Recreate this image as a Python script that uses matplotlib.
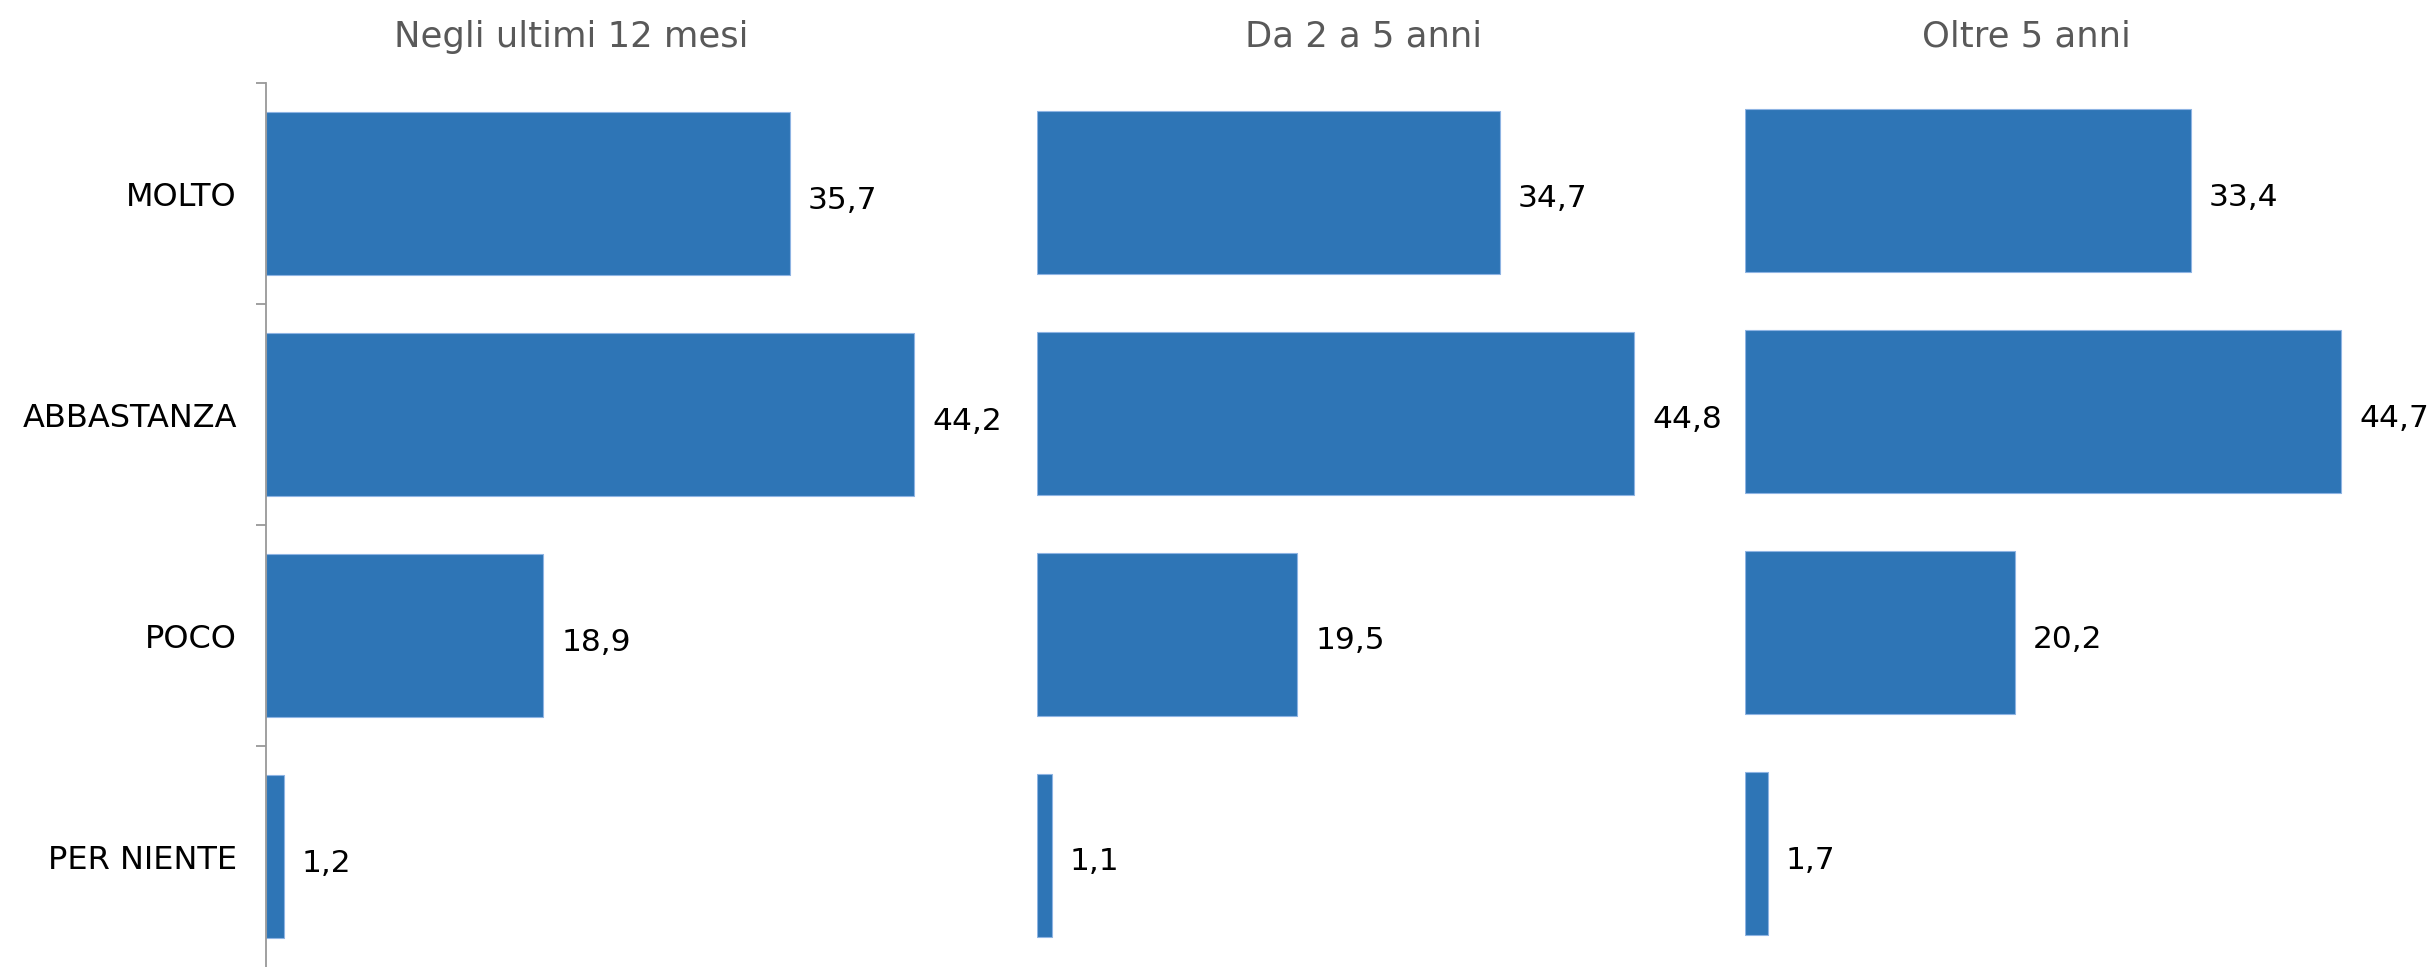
import matplotlib
matplotlib.use("Agg")
import matplotlib.pyplot as plt

categories = ["MOLTO", "ABBASTANZA", "POCO", "PER NIENTE"]
titles = ["Negli ultimi 12 mesi", "Da 2 a 5 anni", "Oltre 5 anni"]
vals_12mesi = [35.7, 44.2, 18.9, 1.2]
vals_2_5anni = [34.7, 44.8, 19.5, 1.1]
vals_oltre5 = [33.4, 44.7, 20.2, 1.7]
series = [vals_12mesi, vals_2_5anni, vals_oltre5]

W, H = 2433, 967
fig = plt.figure(figsize=(W / 100, H / 100), dpi=100)
plt.rcParams['font.family'] = ['DejaVu Sans']

BAR = '#2E75B6'
EDGE = '#8EB4E3'
AXC = '#999999'

# panel geometry in pixels: (left, top-of-bands shift, width for xlim 0..50)
panels = [(266.0, 0.0, 733.5), (1037.3, -1.7, 666.5), (1745.3, -3.0, 666.5)]
title_cx = [571, 1364, 2026]

for i, (vals, (lx, dy, wpx)) in enumerate(zip(series, panels)):
    top = 83.3 + dy
    bot = 967.3 + dy
    ax = fig.add_axes([lx / W, (H - bot) / H, wpx / W, (bot - top) / H])
    ypos = list(range(len(categories)))
    ax.barh(ypos, vals, height=0.738, color=BAR, edgecolor=EDGE, linewidth=0.8)
    ax.set_xlim(0, 50)
    ax.set_ylim(3.5, -0.5)
    for s in ['top', 'right', 'bottom']:
        ax.spines[s].set_visible(False)
    ax.set_xticks([])
    for y, v in zip(ypos, vals):
        ax.annotate(f"{v:.1f}".replace('.', ','), xy=(v, y), xytext=(13.0, -10.6),
                    textcoords='offset points', ha='left', va='baseline',
                    fontsize=22.5, color='black', annotation_clip=False)
    if i == 0:
        ax.spines['left'].set_color(AXC)
        ax.spines['left'].set_linewidth(1.3)
        ax.set_yticks(ypos)
        ax.set_yticklabels(categories, fontsize=23)
        ax.tick_params(axis='y', which='major', length=0, pad=21)
        ax.set_yticks([-0.5, 0.5, 1.5, 2.5], minor=True)
        ax.tick_params(axis='y', which='minor', length=7.2, width=1.3, color=AXC)
    else:
        ax.spines['left'].set_visible(False)
        ax.set_yticks([])
    fig.text(title_cx[i] / W, (H - 46.7) / H, titles[i], ha='center', va='baseline',
             fontsize=25.5, color='#595959')

fig.savefig('out.png', dpi=100)
